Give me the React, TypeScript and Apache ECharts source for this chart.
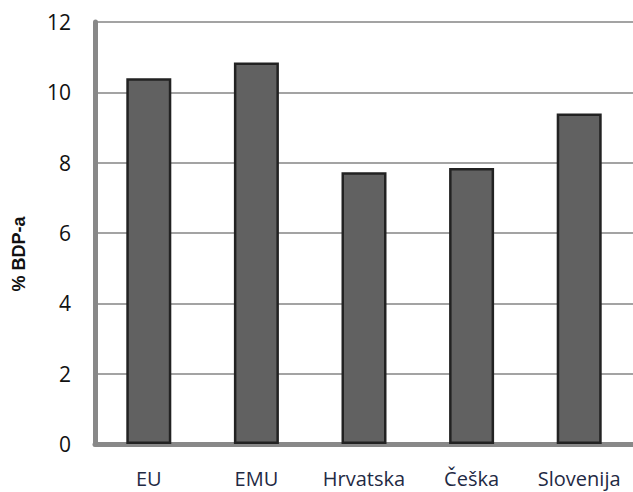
import React, { useEffect, useRef } from "react";
import * as echarts from "echarts";

const categories = ["EU", "EMU", "Hrvatska", "Češka", "Slovenija"];
const values = [10.4, 10.85, 7.73, 7.85, 9.4];
const yTicks = { min: 0, max: 12, interval: 2 };
const yName = "% BDP-a";

export default function App() {
  const ref = useRef<HTMLDivElement>(null);
  useEffect(() => {
    const chart = echarts.init(ref.current!, null, { renderer: "svg" });
    chart.setOption({
      animation: false,
      grid: { left: 95, right: -2, top: 22, bottom: 48, containLabel: false },
      xAxis: {
        type: "category",
        data: categories,
        axisLine: { lineStyle: { color: "#888", width: 5 } },
        axisTick: { show: false },
        axisLabel: { color: "#1f2a44", fontSize: 20, fontFamily: "Open Sans", margin: 24, interval: 0, hideOverlap: false },
      },
      yAxis: {
        type: "value",
        min: yTicks.min,
        max: yTicks.max,
        interval: yTicks.interval,
        axisLine: { show: true, lineStyle: { color: "#888", width: 5 } },
        axisTick: { show: false },
        axisLabel: { color: "#111", fontSize: 21, fontFamily: "Open Sans", margin: 24 },
        splitLine: { lineStyle: { color: "#a3a3a3", width: 2 } },
      },
      graphic: [
        {
          type: "text",
          x: 19,
          y: 254,
          rotation: Math.PI / 2,
          style: {
            text: yName,
            fontSize: 18,
            fontWeight: "bold",
            fontFamily: "Liberation Sans",
            fill: "#111",
            align: "center",
            verticalAlign: "middle",
          },
        },
      ],
      series: [
        {
          type: "bar",
          data: values,
          barWidth: 45,
          itemStyle: { color: "#616161", borderColor: "#222", borderWidth: 2.5 },
        },
      ],
    });
    return () => chart.dispose();
  }, []);
  return <div ref={ref} style={{ width: 633, height: 492, position: "absolute", left: 0, top: 0, background: "#fff" }} />;
}
